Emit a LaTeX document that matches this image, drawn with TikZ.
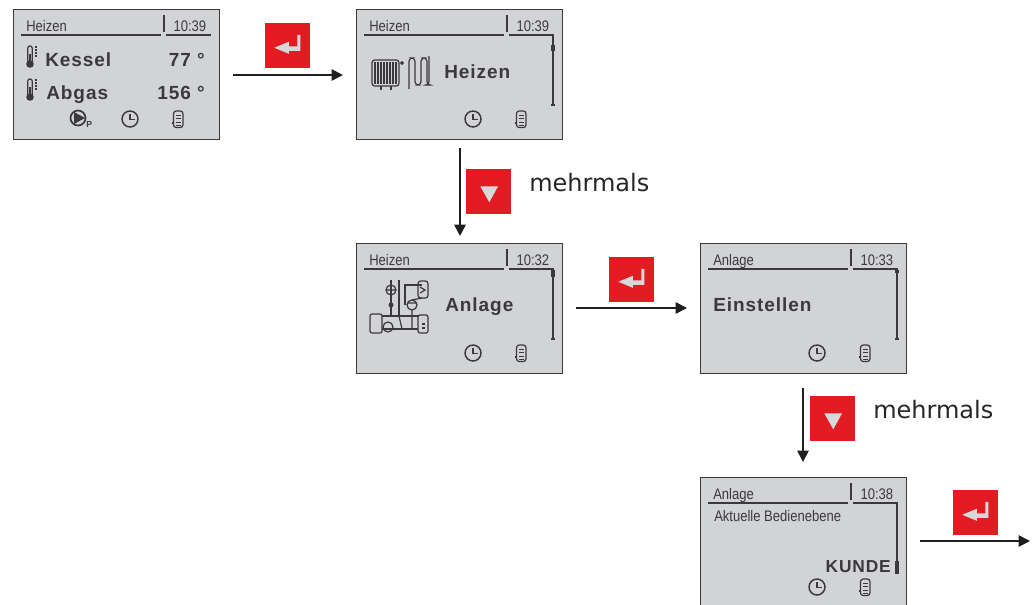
\documentclass[tikz,border=0pt]{standalone}
\usepackage{fontspec}
\usetikzlibrary{arrows.meta}
\setmainfont{DejaVu Sans}
\newfontfamily\lcdschrift[FakeStretch=0.85]{Liberation Sans}
\newfontfamily\lcdfett[LetterSpace=5]{Liberation Sans}
\definecolor{tastenrot}{HTML}{E31B23}
\definecolor{lcdgrau}{HTML}{D2D3D5}
\definecolor{lcddunkel}{HTML}{3A3A3C}
\definecolor{tastenpfeil}{HTML}{D8D8DA}
\tikzset{
  anzeigebox/.style={draw=lcddunkel,line width=0.75pt,fill=lcdgrau,inner sep=0pt,outer sep=0pt,
    minimum width=154.5pt,minimum height=97.5pt,anchor=north west},
  klein/.style={font=\lcdschrift\fontsize{11.5}{12}\selectfont,text=lcddunkel,inner sep=0pt,anchor=base west},
  fett/.style={font=\lcdfett\bfseries\fontsize{14.25}{15}\selectfont,text=lcddunkel,inner sep=0pt,anchor=base west},
  rand/.style={draw=lcddunkel,line width=1pt},
  symbol/.style={draw=lcddunkel,line width=0.9pt},
  taste/.style={fill=tastenrot,inner sep=0pt,minimum size=33.75pt,anchor=north west},
  fluss/.style={->,line width=1.3pt,draw=black!88},
  hinweis/.style={font=\fontsize{18}{20}\selectfont,text=black!85,inner sep=0pt,anchor=west},
  anzeige/.pic={
    \node[anzeigebox] (-box) at (0,0) {};
    \node[klein] (-titel) at (13,22) {\titel};
    \node[klein,anchor=base east] (-zeit) at (193.5,22) {\zeit};
    \draw[rand] (8,26) -- (148,26);
    \draw[rand] (151,6) -- (151,23);
    % Uhr
    \draw[symbol,line width=1.1pt] (117,110) circle (8);
    \draw[symbol] (117,105) -- (117,110.5) -- (121.5,110.5);
    % Speicher
    \draw[symbol,rounded corners=2] (160.5,102) rectangle (170,118.5);
    \foreach \s in {106,109.5,113,116} {
      \draw[symbol,line width=0.7pt] (163,\s) -- (167.5,\s);
    }
    \draw[symbol] (159,114) -- (160.5,114);
  },
  thermometer/.pic={
    \draw[symbol,rounded corners=1.5] (-2.2,8) -- (-2.2,-10) -- (2.2,-10) -- (2.2,8);
    \fill[lcddunkel] (0,8) circle (3.8);
    \fill[lcddunkel] (-1,-2) rectangle (1,8);
    \foreach \s in {-9,-6,-3,0} {
      \draw[symbol,line width=0.8pt] (4.5,\s) -- (7,\s);
    }
  },
  taste enter/.pic={
    \fill[tastenpfeil] (-13.5,2) -- (1,-4) -- (1,0.5) -- (9.5,0.5) -- (9.5,-11) -- (12.5,-11)
      -- (12.5,5) -- (1,5) -- (1,8) -- cycle;
  },
  taste runter/.pic={
    \fill[tastenpfeil] (-8.5,-5.5) -- (9.3,-5.5) -- (0.5,10.5) -- cycle;
  },
}
\begin{document}
\begin{tikzpicture}[x=0.75pt,y=-0.75pt,>={Stealth[length=8.5pt,width=8.5pt,inset=0pt]}]
  \useasboundingbox (0,0) rectangle (1035,604);
  \clip (0,0) rectangle (1035,604);

  % Anzeigen
  \foreach \name/\x/\y/\titel/\zeit in {uebersicht/13/9/Heizen/10:39,heizen/356/9/Heizen/10:39,
      anlage/356/243/Heizen/10:32,einstellen/700/243/Anlage/10:33,bedienebene/700/477/Anlage/10:38} {
    \pic (\name) at (\x,\y) {anzeige};
  }
  % Rollbalken
  \foreach \x/\y/\oben/\unten in {356/9/36/42,356/243/27/34,700/243/27/30,700/477/84/97} {
    \begin{scope}[shift={(\x,\y)}]
      \draw[rand] (153,26) -- (197,26) -- (197,96);
      \draw[rand,line width=3pt] (197,\oben) -- (197,\unten);
      \draw[rand] (195,96) -- (199,96);
    \end{scope}
  }
  \draw[rand] (166,35) -- (211,35);

  % Erste Anzeige
  \pic at (30,56) {thermometer};
  \pic at (30,89) {thermometer};
  \node[fett] (kessel) at (45,66) {Kessel};
  \node[fett] (abgas) at (46,99) {Abgas};
  \node[fett,anchor=base east] (kesselwert) at (205,66) {77 °};
  \node[fett,anchor=base east] (abgaswert) at (205,99) {156 °};
  \draw[symbol,line width=1.3pt] (78,118) circle (7.5);
  \fill[lcddunkel] (74,112) -- (85,118) -- (74,124) -- cycle;
  \node[klein,font=\lcdfett\bfseries\fontsize{6.5}{7}\selectfont] (pumpe) at (86,127) {P};

  % Heizkoerper und Schlange
  \draw[symbol,rounded corners=2] (372,60) rectangle (399,86);
  \foreach \x in {375,378,381,384,387,390,393,396} {
    \draw[symbol,line width=0.8pt] (\x,62) -- (\x,84);
  }
  \draw[symbol] (381,86) -- (381,90) (391,86) -- (391,90);
  \draw[symbol] (402,63) circle (1.2);
  \draw[symbol,rounded corners=2.5] (409,89) -- (409,58) -- (415,58) -- (415,85) -- (421,85)
    -- (421,58) -- (427,58) -- (427,85) -- (429,85) -- (429,56);
  \node[fett] (heizentext) at (444,78) {Heizen};

  % Anlage
  \begin{scope}[shift={(356,243)}]
    \draw[symbol] (35,37) -- (35,72) (43,37) -- (43,72);
    \draw[symbol] (35,47) circle (5) (30,47) -- (40,47);
    \fill[lcddunkel] (35,62) circle (2.5);
    \draw[symbol] (49,62) -- (49,42) -- (66,42);
    \draw[symbol,rounded corners=2] (62,38) rectangle (72,55);
    \draw[symbol] (64,50) -- (69,47) -- (64,44);
    \draw[symbol] (56,62) circle (5) (51,60) -- (61,60);
    \draw[symbol] (56,67) -- (56,86) (66,55) -- (56,57);
    \draw[symbol,rounded corners=1.5] (14,71) rectangle (26,90);
    \draw[symbol,rounded corners=1.5] (62,72) rectangle (72,90);
    \draw[symbol] (26,73) -- (62,73) (26,86) -- (62,86);
    \draw[symbol] (43,73) -- (46,86);
    \draw[symbol] (32,84) circle (5);
    \draw[symbol] (66,81) -- (69,81) (66,85) -- (69,85);
  \end{scope}
  \node[fett] (anlagetext) at (445,311) {Anlage};

  % Weitere Texte
  \node[fett] (einstellentext) at (713,311) {Einstellen};
  \node[klein] (bedienebenetext) at (714,521) {Aktuelle Bedienebene};
  \node[fett,anchor=base east,font=\lcdfett\bfseries\fontsize{13}{14}\selectfont] (kunde) at (891,572) {KUNDE};

  % Pfeile
  \coordinate (ausgang) at (1030,541);
  \draw[fluss,shorten <=14pt*0.75,shorten >=13pt*0.75] ([yshift=-0.75pt]uebersicht-box.east) -- ([yshift=-0.75pt]heizen-box.west);
  \draw[fluss,shorten <=9pt*0.75,shorten >=7pt*0.75] ([xshift=0.75pt]heizen-box.south) -- ([xshift=0.75pt]anlage-box.north);
  \draw[fluss,shorten <=14pt*0.75,shorten >=13pt*0.75] (anlage-box.east) -- (einstellen-box.west);
  \draw[fluss,shorten <=15pt*0.75,shorten >=15pt*0.75] (einstellen-box.south) -- (bedienebene-box.north);
  \draw[fluss,shorten <=14pt*0.75] (bedienebene-box.east |- ausgang) -- (ausgang);

  % Tasten
  \foreach \name/\x/\y/\art in {tasteA/265/23/enter,tasteB/466/169/runter,tasteC/609/257/enter,
      tasteD/810/396/runter,tasteE/953/490/enter} {
    \node[taste] (\name) at (\x,\y) {};
    \pic at (\name.center) {taste \art};
  }
  \node[hinweis] (mehrmalsA) at (529,183) {mehrmals};
  \node[hinweis] (mehrmalsB) at (873,410) {mehrmals};
\end{tikzpicture}
\end{document}
